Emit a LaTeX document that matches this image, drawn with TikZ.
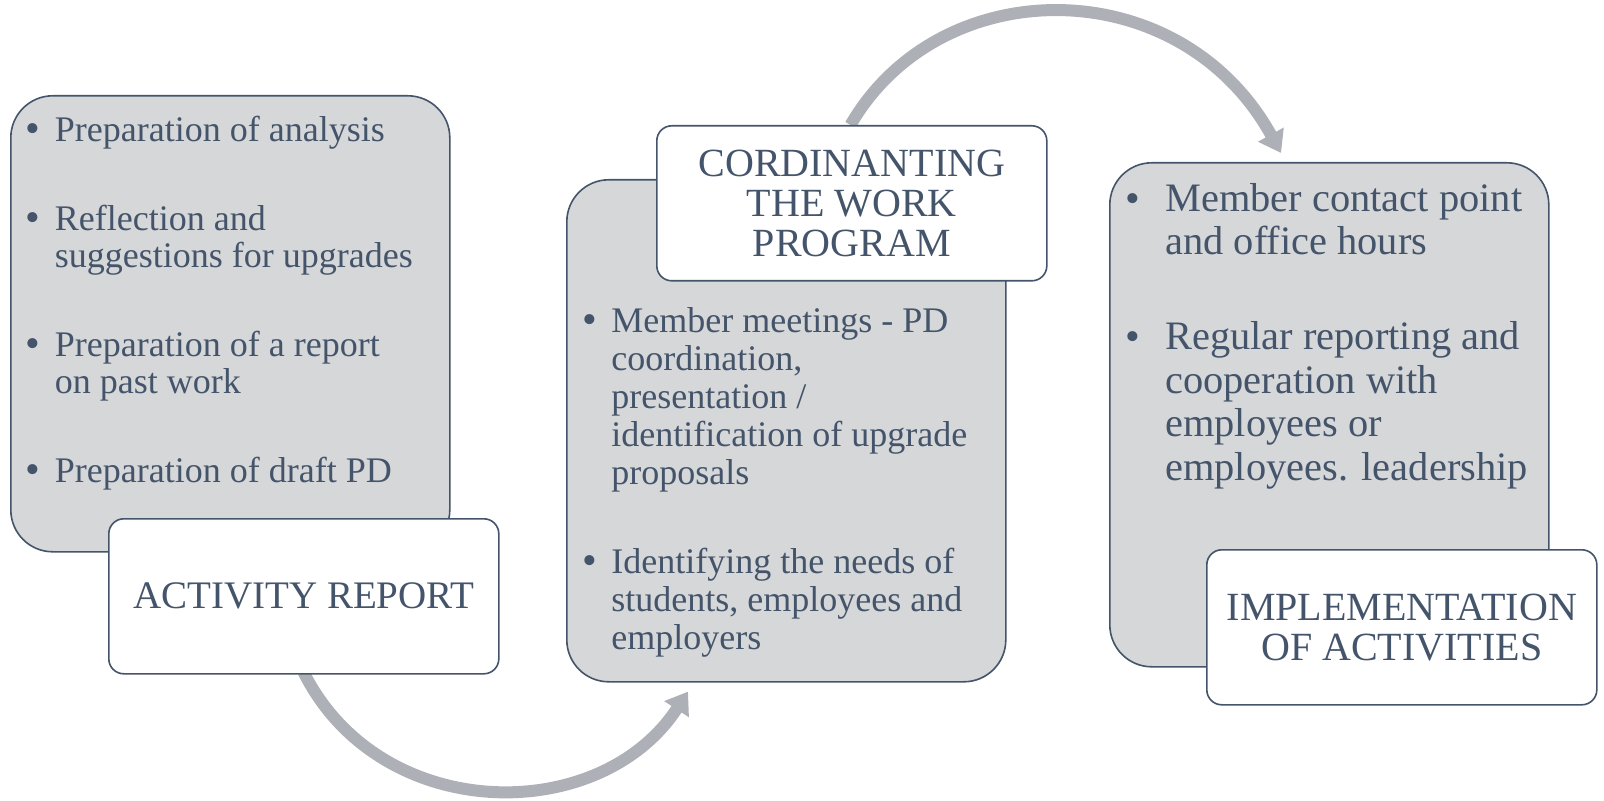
\documentclass[tikz,border=0pt]{standalone}
\usepackage{fontspec}
\setmainfont{Liberation Serif}
\usepackage{tikz}
\usetikzlibrary{arrows.meta,positioning,calc}
\definecolor{slate}{HTML}{44546A}
\definecolor{panel}{HTML}{D6D7D9}
\definecolor{flow}{HTML}{AEB0B7}
\newcommand{\bul}[1]{\makebox[#1][l]{\hspace{-1.5pt}\raisebox{-0.5pt}{\fontsize{21}{21}\selectfont\textbullet}}}

\begin{document}
\begin{tikzpicture}[
    x=0.5pt,y=-0.5pt,
    panelbox/.style={draw=slate,line width=0.8pt,fill=panel,rounded corners=21pt,minimum width=219.5pt,anchor=north west,inner sep=0pt},
    titlebox/.style={draw=slate,line width=0.8pt,fill=white,rounded corners=7.5pt,minimum width=195pt,minimum height=77.5pt,anchor=north west,align=center,text=slate,font=\fontsize{20}{20}\selectfont},
    items/.style={anchor=north west,align=left,inner sep=0pt,text=slate},
    flowarrow/.style={draw=flow,line width=6pt,-{Triangle[length=10.5pt,width=14pt]}}
  ]
  \useasboundingbox[fill=white] (0,0) rectangle (1604,801);

  % grey panels
  \node[panelbox,minimum height=228pt] (g1) at (10,95) {};
  \node[panelbox,minimum height=251pt] (g2) at (566,179) {};
  \node[panelbox,minimum height=252pt] (g3) at (1109,162) {};

  % curved arrows, behind the title boxes
  \coordinate (w1s) at (303.5,672);
  \coordinate (w2n) at (850.5,125);
  \draw[flowarrow] (w1s) .. controls +(76.5,153) and +(-88,135) .. ($(g2.south west)+(122,9)$);
  \draw[flowarrow] (w2n) .. controls +(89.5,-155) and +(-101,-183) .. ($(g3.north west)+(172,-9)$);

  % title boxes
  \node[titlebox,font=\fontsize{19.5}{20}\selectfont] (w1) at (108,518) {ACTIVITY REPORT};
  \node[titlebox] (w2) at (656,125) {CORDINANTING\\THE WORK\\PROGRAM};
  \node[titlebox] (w3) at (1206,549) {IMPLEMENTATION\\OF ACTIVITIES};

  % bullet lists
  \node[items,font=\fontsize{18}{18.75}\selectfont] (t1) at (28,116) {\bul{13.25pt}Preparation of analysis\\[25.5pt]
    \bul{13.25pt}Reflection and\\\hspace*{13.25pt}suggestions for upgrades\\[25.5pt]
    \bul{13.25pt}Preparation of a report\\\hspace*{13.25pt}on past work\\[25.5pt]
    \bul{13.25pt}Preparation of draft PD};
  \node[items,font=\fontsize{18}{19}\selectfont] (t2) at (585.5,307) {\bul{12.75pt}Member meetings - PD\\\hspace*{12.75pt}coordination,\\\hspace*{12.75pt}presentation /\\\hspace*{12.75pt}identification of upgrade\\\hspace*{12.75pt}proposals\\[25.5pt]
    \bul{12.75pt}Identifying the needs of\\\hspace*{12.75pt}students, employees and\\\hspace*{12.75pt}employers};
  \node[items,font=\fontsize{20.2}{21.75}\selectfont] (t3) at (1128,183) {\bul{18.5pt}Member contact point\\\hspace*{18.5pt}and office hours\\[25.75pt]
    \bul{18.5pt}Regular reporting and\\\hspace*{18.5pt}cooperation with\\\hspace*{18.5pt}employees or\\\hspace*{18.5pt}employees. leadership};
\end{tikzpicture}
\end{document}
